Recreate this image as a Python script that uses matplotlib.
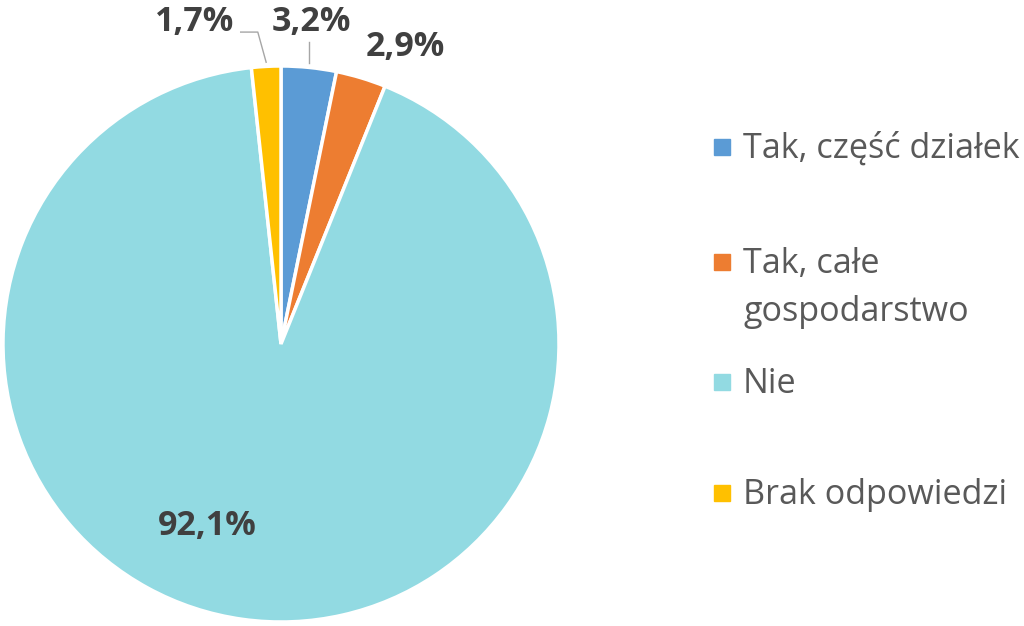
import numpy as np
import matplotlib.pyplot as plt
from matplotlib.patches import Rectangle

plt.rcParams['font.family'] = ['Open Sans', 'DejaVu Sans']

# data
labels = ["Tak, część działek", "Tak, całe\ngospodarstwo", "Nie", "Brak odpowiedzi"]
values = [3.2, 2.9, 92.1, 1.7]
pct_text = ["3,2%", "2,9%", "92,1%", "1,7%"]
colors = ["#5B9BD5", "#ED7D31", "#92DAE2", "#FFC000"]

W, H = 1024, 626
fig = plt.figure(figsize=(W / 100, H / 100), dpi=100)

# pie placement in pixels
cx, cy, r = 281, 344, 278
ax = fig.add_axes([(cx - r) / W, (H - cy - r) / H, 2 * r / W, 2 * r / H])
wedges, _ = ax.pie(values, colors=colors, startangle=90, counterclock=False,
                   radius=1, wedgeprops=dict(edgecolor="white", linewidth=2.5))
ax.set_xlim(-1, 1)
ax.set_ylim(-1, 1)
ax.set_aspect("equal")
ax.axis("off")

# label positions (units of radius, relative to centre)
label_pos = [(0.11, 1.16), (0.446, 1.07), (-0.266, -0.655), (-0.31, 1.16)]
leader = [True, False, False, True]
for w, txt, (lx, ly), ld in zip(wedges, pct_text, label_pos, leader):
    ax.text(lx, ly, txt, ha="center", va="center", fontsize=24.5,
            fontweight="bold", color="#404040", clip_on=False)
    if ld:
        a = np.deg2rad((w.theta1 + w.theta2) / 2)
        ex, ey = np.cos(a), np.sin(a)
        if lx > 0:
            xs, ys = [ex, ex], [ey + 0.015, 1.085]
        else:
            xs, ys = [ex, ex - 0.03, lx + 0.165], [ey + 0.015, 1.122, 1.122]
        ax.plot(xs, ys, color="#A6A6A6", lw=1, clip_on=False)

# legend drawn by hand to follow the uneven spacing
legend_y = [147, 262, 382, 493]
for lab, col, y in zip(labels, colors, legend_y):
    fig.patches.append(Rectangle((714 / W, (H - y - 8) / H), 16 / W, 16 / H,
                                 transform=fig.transFigure, color=col))
    for i, line in enumerate(lab.split("\n")):
        fig.text(743 / W, (H - y - 11 - i * 48) / H, line, ha="left",
                 va="baseline", fontsize=24.6, color="#595959")

fig.savefig("out.png", dpi=100)
